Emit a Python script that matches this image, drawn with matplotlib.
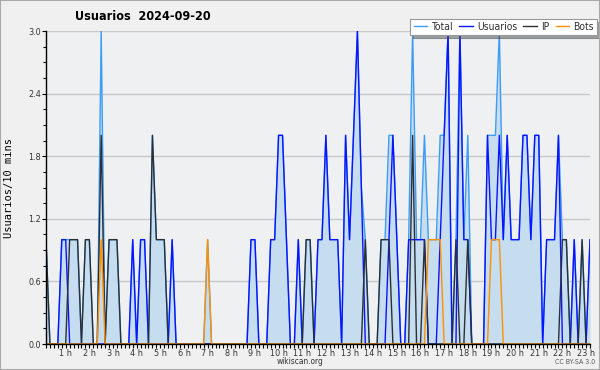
"""Usuarios per 10 minutes, one day"""

import matplotlib
matplotlib.use("Agg")
import matplotlib.pyplot as plt
from matplotlib.patches import Rectangle
from matplotlib.ticker import MultipleLocator, FixedLocator
import numpy as np

title = "Usuarios  2024-09-20"

# one value per 10 minutes, first point is 00:10
usuarios = [0, 0, 0, 0, 1, 1, 0, 0, 0, 0, 0, 0, 0, 0, 0, 0, 0, 0, 0, 0,
            0, 0, 1, 0, 1, 1, 0, 0, 0, 0, 0, 0, 1, 0, 0, 0, 0, 0, 0, 0,
            0, 0, 0, 0, 0, 0, 0, 0, 0, 0, 0, 0, 1, 1, 0, 0, 0, 1, 1, 2,
            2, 1, 0, 0, 1, 0, 0, 0, 0, 1, 1, 2, 1, 1, 1, 0, 2, 1, 2, 3,
            1.5, 0, 0, 0, 0, 0, 0, 1, 2, 1, 0, 0, 1, 1, 1, 1, 1, 0, 0, 0,
            1, 2, 3, 0, 0, 3, 1, 1, 0, 0, 0, 0, 2, 1, 1, 2, 1, 2, 1, 1,
            1, 2, 2, 1, 2, 2, 0, 1, 1, 1, 2, 0, 0, 0, 1, 0, 0, 0, 1]
ip = [1, 0, 0, 0, 0, 0, 1, 1, 1, 0, 1, 1, 0, 0, 2, 0, 1, 1, 1, 0,
      0, 0, 0, 0, 0, 0, 0, 2, 1, 1, 1, 0, 0, 0, 0, 0, 0, 0, 0, 0,
      0, 0, 0, 0, 0, 0, 0, 0, 0, 0, 0, 0, 0, 0, 0, 0, 0, 0, 0, 0,
      0, 0, 0, 0, 0, 0, 1, 1, 0, 0, 0, 0, 0, 0, 0, 0, 0, 0, 0, 0,
      0, 1, 0, 0, 0, 1, 1, 1, 0, 0, 0, 0, 0, 2, 0, 0, 1, 0, 0, 0,
      0, 0, 0, 0, 1, 0, 0, 1, 0, 0, 0, 0, 0, 0, 0, 0, 0, 0, 0, 0,
      0, 0, 0, 0, 0, 0, 0, 0, 0, 0, 0, 1, 1, 0, 0, 0, 1, 0, 0]
bots = [0, 0, 0, 0, 0, 0, 0, 0, 0, 0, 0, 0, 0, 0, 1, 0, 0, 0, 0, 0,
        0, 0, 0, 0, 0, 0, 0, 0, 0, 0, 0, 0, 0, 0, 0, 0, 0, 0, 0, 0,
        0, 1, 0, 0, 0, 0, 0, 0, 0, 0, 0, 0, 0, 0, 0, 0, 0, 0, 0, 0,
        0, 0, 0, 0, 0, 0, 0, 0, 0, 0, 0, 0, 0, 0, 0, 0, 0, 0, 0, 0,
        0, 0, 0, 0, 0, 0, 0, 0, 0, 0, 0, 0, 0, 0, 0, 0, 0, 1, 1, 1,
        1, 0, 0, 0, 0, 0, 0, 0, 0, 0, 0, 0, 0, 1, 1, 1, 0, 0, 0, 0,
        0, 0, 0, 0, 0, 0, 0, 0, 0, 0, 0, 0, 0, 0, 0, 0, 0, 0, 0]
hours = list(range(1, 24))
hour_labels = [str(h) + " h" for h in hours]

total = np.array(usuarios) + np.array(ip) + np.array(bots)
t = 10 * np.arange(1, len(usuarios) + 1)  # minutes

plt.rcParams["font.stretch"] = "condensed"

fig = plt.figure(figsize=(6, 3.7), dpi=100, facecolor="#f0f0f0")
ax = fig.add_axes([46 / 600, 1 - 344 / 370, 544 / 600, 313 / 370])
ax.set_facecolor("#eef0f2")

ax.fill_between(t, total, color="#c6dcef", lw=0)
ax.plot(t, total, color="#3d9df5", lw=1, label="Total")
ax.plot(t, usuarios, color="#0a14ff", lw=1, label="Usuarios")
ax.plot(t, ip, color="#2b3036", lw=1, label="IP")
ax.plot(t, bots, color="#ff9000", lw=1, label="Bots")

ax.set_xlim(t[0], t[-1])
ax.set_ylim(0, 3.0)
ax.yaxis.set_major_locator(MultipleLocator(0.6))
ax.yaxis.set_minor_locator(MultipleLocator(0.15))
ax.set_yticklabels(["%.1f" % v for v in ax.get_yticks()])
ax.xaxis.set_major_locator(FixedLocator([60 * h for h in hours]))
ax.set_xticklabels(hour_labels)
ax.xaxis.set_minor_locator(MultipleLocator(10))
ax.tick_params(axis="both", which="both", direction="out", length=3,
               width=0.8, labelsize=6.5, pad=0.5, colors="black")
ax.tick_params(axis="y", which="minor", length=2)
for lab in ax.get_xticklabels() + ax.get_yticklabels():
    lab.set_color("#333333")

ax.grid(axis="y", which="major", color="#c8c8c8", lw=1)
ax.set_axisbelow(True)
for s in ["top", "right"]:
    ax.spines[s].set_visible(False)
ax.spines["left"].set_linewidth(1)
ax.spines["bottom"].set_linewidth(1)

ax.set_ylabel("Usuarios/10 mins", family="DejaVu Sans Mono", fontsize=7.5,
              fontstretch="normal")
ax.yaxis.set_label_coords(-0.058, 0.5)

fig.text(75 / 600, 1 - 17 / 370, title, fontsize=9, fontweight="bold",
         va="center")

leg = ax.legend(loc="upper right", bbox_to_anchor=(597 / 600, 1 - 19 / 370),
                bbox_transform=fig.transFigure, ncol=4, fontsize=7.5,
                frameon=True, fancybox=False, shadow=True, framealpha=1,
                edgecolor="#999999", handlelength=1.3, handletextpad=0.4,
                columnspacing=0.6, borderpad=0.3, borderaxespad=0)
leg.get_frame().set_linewidth(0.8)
for txt in leg.get_texts():
    txt.set_color("#333333")

fig.text(0.5, 1 - 362 / 370, "wikiscan.org", fontsize=6, ha="center",
         va="center", color="#333333")
fig.text(595 / 600, 1 - 362 / 370, "CC BY-SA 3.0", fontsize=5, ha="right",
         va="center", color="#555555")

fig.patches.append(Rectangle((0, 0), 1, 1, transform=fig.transFigure,
                             fill=False, edgecolor="#aaaaaa", lw=1.5))

fig.savefig("out.png", dpi=100, facecolor=fig.get_facecolor())
